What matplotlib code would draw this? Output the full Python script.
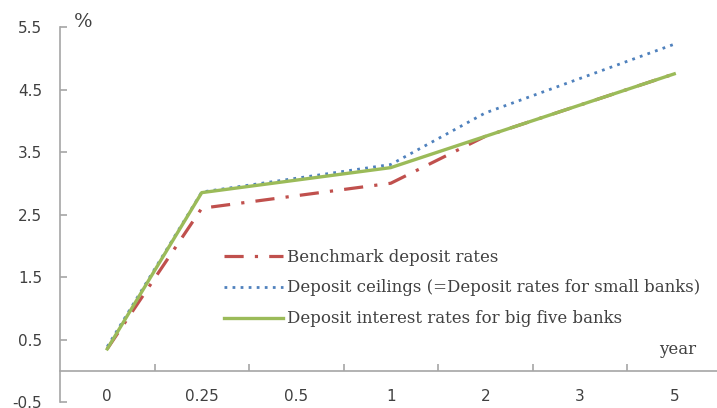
import matplotlib

matplotlib.use("Agg")
import matplotlib.pyplot as plt  # noqa: E402
import numpy as np  # noqa: E402

AXIS = "#a6a6a6"
TEXT = "#404040"
RED = "#c0504d"
BLUE = "#4f81bd"
GREEN = "#9bbb59"

maturities = ["0", "0.25", "0.5", "1", "2", "3", "5"]
benchmark = [0.35, 2.60, 2.80, 3.00, 3.75, 4.25, 4.75]
ceilings = [0.385, 2.86, 3.08, 3.30, 4.125, 4.675, 5.225]
big_five = [0.35, 2.85, 3.05, 3.25, 3.75, 4.25, 4.75]
y_ticks = [-0.5, 0.5, 1.5, 2.5, 3.5, 4.5, 5.5]

fig = plt.figure(figsize=(7.17, 4.08), dpi=100)
ax = fig.add_axes([60 / 717, 6 / 408, 661.5 / 717, 375 / 408])

x = np.arange(len(maturities))
ax.plot(x, benchmark, color=RED, linewidth=2.3,
        linestyle=(0, (6, 3.5, 1, 3.5)), label="Benchmark deposit rates")
ax.plot(x, ceilings, color=BLUE, linewidth=2.0,
        linestyle=(0, (1, 1.9)),
        label="Deposit ceilings (=Deposit rates for small banks)")
ax.plot(x, big_five, color=GREEN, linewidth=2.4,
        label="Deposit interest rates for big five banks")

ax.set_xlim(-0.5, len(maturities) - 0.5)
ax.set_ylim(-0.5, 5.5)

for s in ("top", "right"):
    ax.spines[s].set_visible(False)
for s in ("left", "bottom"):
    ax.spines[s].set_color(AXIS)
    ax.spines[s].set_linewidth(1.2)
ax.spines["bottom"].set_position(("data", 0))

# ticks between categories, labels at category centres
ax.set_xticks(np.arange(0.5, len(maturities) - 1, 1))
ax.set_xticklabels([])
ax.set_xticks(x, minor=True)
ax.set_xticklabels(maturities, minor=True)
ax.tick_params(axis="x", which="major", direction="in", length=5,
               color=AXIS, width=1.2)
ax.tick_params(axis="x", which="minor", length=0, pad=13,
               labelsize=11, labelcolor=TEXT)

ax.set_yticks(y_ticks)
ax.set_yticklabels([f"{v:.1f}" for v in y_ticks])
ax.tick_params(axis="y", direction="in", length=5, color=AXIS, width=1.2,
               pad=13, labelsize=11, labelcolor=TEXT)

fig.text(83 / 717, 1 - 22 / 408, "%", fontsize=14, family="DejaVu Serif",
         color=TEXT, ha="center", va="center")
fig.text(678 / 717, 1 - 350 / 408, "year", fontsize=12, family="DejaVu Serif",
         color=TEXT, ha="center", va="center")

ax.legend(loc="center left", bbox_to_anchor=(216 / 717, 1 - 288 / 408),
          bbox_transform=fig.transFigure, frameon=False, borderpad=0,
          handlelength=3.5, handletextpad=0.25, labelspacing=0.83,
          prop={"family": "DejaVu Serif", "size": 12}, labelcolor=TEXT)

fig.savefig("out.png", dpi=100)
